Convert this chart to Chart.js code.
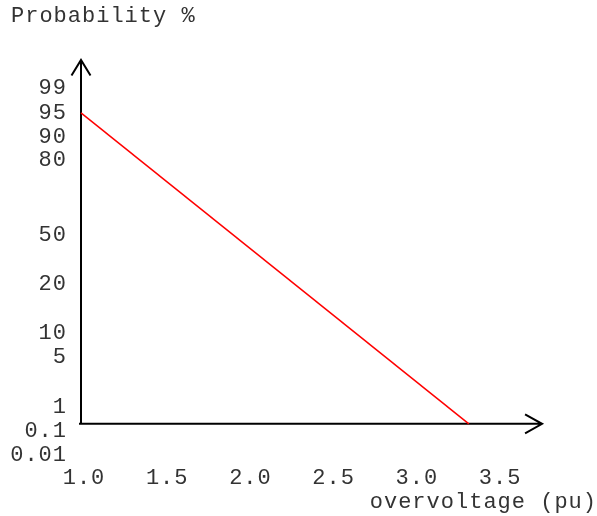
<!DOCTYPE html>
<html>

<head>
  <title>Overvoltage probability</title>
  <script src="https://cdn.jsdelivr.net/npm/chart.js"></script>
  <style>
    body { margin: 0; background: #fff; }
  </style>
</head>

<body>
  <canvas id="myChart" width="597" height="516"></canvas>
  <script>
    // probability paper: tick labels, their values, and where they sit on the paper (0 = bottom, 100 = 99 %)
    var yTickLabels = ['99', '95', '90', '80', '50', '20', '10', '5', '1', '0.1', '0.01'];
    var yTickValues = [99, 95, 90, 80, 50, 20, 10, 5, 1, 0.1, 0.01];
    var yTickPaper = [100, 93.2, 86.6, 80.4, 59.9, 46.6, 33.2, 26.7, 13.1, 6.5, 0];

    var xTickValues = [1.0, 1.5, 2.0, 2.5, 3.0, 3.5];
    var xTickLabels = ['1.0', '1.5', '2.0', '2.5', '3.0', '3.5'];

    // the red line: overvoltage (pu) against probability (%)
    var overvoltage = [1.0, 3.33];
    var probability = [95, 0.2];

    var axisCrossProb = 0.2;  // the x axis is drawn at this probability
    var axisXEnd = 3.77;      // where the x arrow ends

    var font = { family: "'Liberation Mono', 'Courier New', monospace", size: 22, lineHeight: 1, weight: 'normal' };
    var textColor = '#333';

    // log interpolation between the two nearest labelled ticks
    function toPaper(p) {
      for (var i = 0; i < yTickValues.length - 1; i++) {
        var hi = yTickValues[i], lo = yTickValues[i + 1];
        if (p <= hi && p >= lo) {
          var t = (Math.log10(p) - Math.log10(lo)) / (Math.log10(hi) - Math.log10(lo));
          return yTickPaper[i + 1] + t * (yTickPaper[i] - yTickPaper[i + 1]);
        }
      }
      return p > yTickValues[0] ? yTickPaper[0] : yTickPaper[yTickPaper.length - 1];
    }

    var spacing = {
      id: 'spacing',
      beforeUpdate: function (chart) { chart.ctx.letterSpacing = '1px'; },
      beforeDraw: function (chart) { chart.ctx.letterSpacing = '1px'; }
    };

    var axes = {
      id: 'axes',
      beforeDatasetsDraw: function (chart) {
        var ctx = chart.ctx, a = chart.chartArea;
        var x0 = a.left, y0 = chart.scales.y.getPixelForValue(toPaper(axisCrossProb));
        var xEnd = chart.scales.x.getPixelForValue(axisXEnd), yEnd = a.top;
        ctx.save();
        ctx.strokeStyle = '#000';
        ctx.lineWidth = 2;
        ctx.beginPath();
        ctx.moveTo(x0, y0 + 1); ctx.lineTo(x0, yEnd);
        ctx.moveTo(x0 - 2, y0); ctx.lineTo(xEnd, y0);
        ctx.moveTo(x0 - 9.5, yEnd + 15.5); ctx.lineTo(x0, yEnd); ctx.lineTo(x0 + 9.5, yEnd + 15.5);
        ctx.moveTo(xEnd - 17, y0 - 9.5); ctx.lineTo(xEnd, y0); ctx.lineTo(xEnd - 17, y0 + 9.5);
        ctx.stroke();
        ctx.restore();
      }
    };

    var ctx = document.getElementById('myChart').getContext('2d');
    var chart = new Chart(ctx, {
      type: 'line',
      data: {
        datasets: [{
          data: overvoltage.map(function (v, i) { return { x: v, y: toPaper(probability[i]) }; }),
          borderColor: '#ff0000',
          borderWidth: 1.5,
          pointRadius: 0,
          clip: false
        }]
      },
      options: {
        responsive: false,
        animation: false,
        layout: { padding: { left: 11, right: 0, top: 0, bottom: 0 } },
        plugins: {
          legend: { display: false },
          tooltip: { enabled: false },
          title: {
            display: true,
            text: 'Probability %',
            align: 'start',
            color: textColor,
            font: font,
            padding: { top: 5, bottom: 33 }
          }
        },
        scales: {
          x: {
            type: 'linear',
            min: 1.0,
            max: 4.1,
            grid: { display: false, drawTicks: false },
            border: { display: false },
            afterBuildTicks: function (scale) {
              scale.ticks = xTickValues.map(function (v) { return { value: v }; });
            },
            afterFit: function (scale) { scale.height = 61; },
            ticks: {
              callback: function (v, i) { return xTickLabels[i]; },
              autoSkip: false,
              maxRotation: 0,
              padding: 12,
              labelOffset: 3,
              color: textColor,
              font: font
            },
            title: {
              display: true,
              text: 'overvoltage (pu)',
              align: 'end',
              color: textColor,
              font: font,
              padding: { top: 2, bottom: 3 }
            }
          },
          y: {
            type: 'linear',
            min: 0,
            max: 107.6,
            grid: { display: false, drawTicks: false },
            border: { display: false },
            afterBuildTicks: function (scale) {
              scale.ticks = yTickPaper.map(function (v) { return { value: v }; });
            },
            afterFit: function (scale) { scale.width = 70; },
            ticks: {
              callback: function (v, i) { return yTickLabels[i]; },
              autoSkip: false,
              padding: 14,
              color: textColor,
              font: font
            }
          }
        }
      },
      plugins: [spacing, axes]
    });
  </script>
</body>

</html>
